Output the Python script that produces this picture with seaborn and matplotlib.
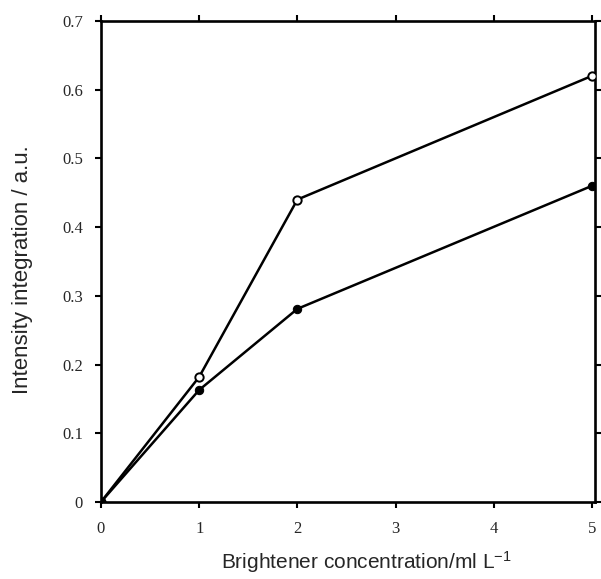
import matplotlib
matplotlib.use("Agg")
import matplotlib.pyplot as plt
import pandas as pd
import seaborn as sns

# Brightener concentration (ml/L) and integrated intensity for the two series
concentration = [0, 1, 2, 5]
open_series = [0.0, 0.182, 0.44, 0.62]
filled_series = [0.0, 0.163, 0.281, 0.46]

x_ticks = [0, 1, 2, 3, 4, 5]
y_ticks = [0, 0.1, 0.2, 0.3, 0.4, 0.5, 0.6, 0.7]
y_tick_labels = ["0", "0.1", "0.2", "0.3", "0.4", "0.5", "0.6", "0.7"]


def main():
    sns.set_style("ticks")
    plt.rcParams["font.family"] = ["Liberation Sans", "DejaVu Sans"]
    plt.rcParams["mathtext.default"] = "regular"

    df = pd.DataFrame({
        "conc": concentration * 2,
        "value": open_series + filled_series,
        "series": ["open"] * len(concentration) + ["filled"] * len(concentration),
    })

    fig = plt.figure(figsize=(6.01, 5.79), dpi=100)
    ax = fig.add_axes([0.168, 0.133, 0.822, 0.831])

    sns.lineplot(data=df[df.series == "open"], x="conc", y="value", ax=ax,
                 color="black", linewidth=1.8, marker="o", markersize=6,
                 markerfacecolor="white", markeredgecolor="black",
                 markeredgewidth=1.4, zorder=3)
    sns.lineplot(data=df[df.series == "filled"], x="conc", y="value", ax=ax,
                 color="black", linewidth=1.8, marker="o", markersize=6,
                 markerfacecolor="black", markeredgecolor="black", zorder=3)

    ax.set_xlim(0, 5.03)
    ax.set_ylim(0, 0.7)
    ax.set_xticks(x_ticks)
    ax.set_yticks(y_ticks)
    ax.set_yticklabels(y_tick_labels)
    for lab in ax.get_xticklabels() + ax.get_yticklabels():
        lab.set_family(["Liberation Serif", "DejaVu Serif"])
        lab.set_fontsize(12)

    ax.tick_params(direction="out", length=4, width=1.5, color="black",
                   top=True, right=True)
    ax.tick_params(axis="x", pad=10)
    ax.tick_params(axis="y", pad=9)
    for side in ["left", "right", "top", "bottom"]:
        ax.spines[side].set_linewidth(1.9)
        ax.spines[side].set_color("black")

    ax.set_xlabel("Brightener concentration/ml L$^{-1}$", fontsize=15)
    ax.set_ylabel("Intensity integration / a.u.", fontsize=16)
    ax.xaxis.set_label_coords(0.538, -0.098)
    ax.yaxis.set_label_coords(-0.138, 0.482)

    fig.savefig("out.png", dpi=100)


if __name__ == "__main__":
    main()
